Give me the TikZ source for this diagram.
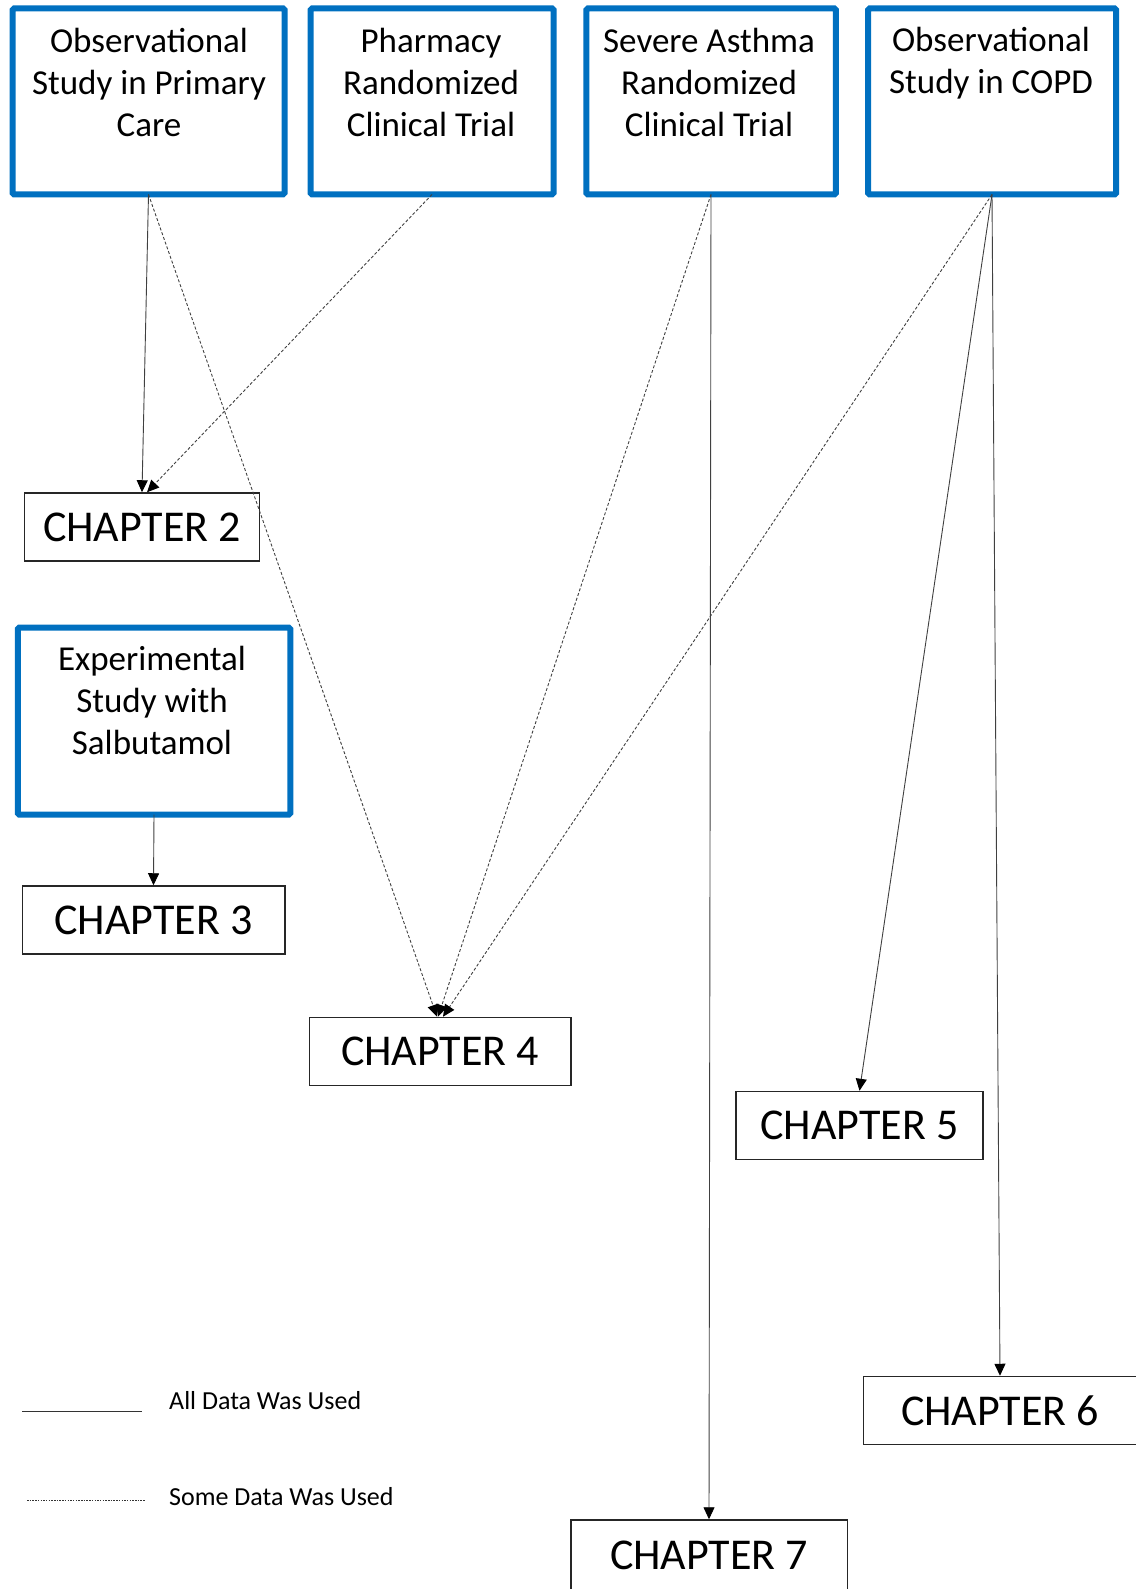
\documentclass[tikz,border=0pt]{standalone}
\usepackage{fontspec}
\setmainfont{Carlito}
\usetikzlibrary{arrows.meta}
\definecolor{boxblue}{RGB}{0,112,192}
\begin{document}
\begin{tikzpicture}[x=1pt,y=-1pt,
 srcbox/.style={draw=boxblue,line width=6pt,rectangle,rounded corners=1.5pt,inner sep=0pt,outer sep=0pt,minimum height=186pt},
 srctext/.style={align=center,font=\fontsize{35}{42}\selectfont,inner sep=0pt},
 chap/.style={draw=black!85,line width=1.5pt,rectangle,inner sep=0pt,minimum height=68pt,font=\fontsize{44}{53}\selectfont},
 full/.style={draw=black!75,line width=0.9pt,-{Triangle[length=12pt,width=11pt,fill=black,color=black]}},
 part/.style={full,dash pattern=on 3pt off 2pt},
 legtext/.style={anchor=west,inner sep=0pt,font=\fontsize{26}{31}\selectfont}]
\useasboundingbox (0,0) rectangle (1135,1589);
% source boxes
\node[srcbox,minimum width=272pt] (b1) at (148.5,101.5) {};
\node[srcbox,minimum width=243pt] (b2) at (432,101.5) {};
\node[srcbox,minimum width=249.5pt] (b3) at (711,101.5) {};
\node[srcbox,minimum width=248pt] (b4) at (992,101.5) {};
\node[srcbox,minimum width=272.5pt,minimum height=187pt] (b5) at (154,721) {};
\node[srctext] (t1) at (149,82) {Observational\\Study in Primary\\Care};
\node[srctext] (t2) at (431,82) {Pharmacy\\Randomized\\Clinical Trial};
\node[srctext] (t3) at (709,82) {Severe Asthma\\Randomized\\Clinical Trial};
\node[srctext] (t4) at (991,63) {Observational\\Study in COPD};
\node[srctext] (t5) at (152,700.5) {Experimental\\Study with\\Salbutamol};
% chapters
\node[chap,minimum width=235pt] (c2) at (142,527) {CHAPTER 2};
\node[chap,minimum width=262.5pt] (c3) at (153.5,920) {CHAPTER 3};
\node[chap,minimum width=261.5pt] (c4) at (440,1051.5) {CHAPTER 4};
\node[chap,minimum width=247pt] (c5) at (859.5,1125.5) {CHAPTER 5};
\node[chap,minimum width=273pt] (c6) at (1000,1410.5) {CHAPTER 6};
\node[chap,minimum width=276.5pt,minimum height=71pt] (c7) at (709,1555.5) {CHAPTER 7};
% connectors
\draw[full] (b1.south) -- (c2.north);
\draw[part] (b2.south) -- ([xshift=5pt]c2.north);
\draw[part] (b1.south) -- ([xshift=-3pt]c4.north);
\draw[part] (b3.south) -- ([xshift=-2pt]c4.north);
\draw[part] (b4.south) -- ([xshift=3pt]c4.north);
\draw[full] (b3.south) -- (c7.north);
\draw[full] (b4.south) -- (c5.north);
\draw[full] (b4.south) -- (c6.north);
\draw[full] (b5.south) -- (c3.north);
% legend
\coordinate (la) at (22,1411);
\coordinate (lb) at (142,1411);
\coordinate (lc) at (27,1500);
\coordinate (ld) at (145,1500);
\draw[draw=black!80,line width=0.9pt] (la) -- (lb);
\draw[draw=black!80,line width=0.9pt,dash pattern=on 1.5pt off 1.2pt] (lc) -- (ld);
\node[legtext] (l1) at (169,1401) {All Data Was Used};
\node[legtext] (l2) at (169,1497) {Some Data Was Used};
\end{tikzpicture}
\end{document}
